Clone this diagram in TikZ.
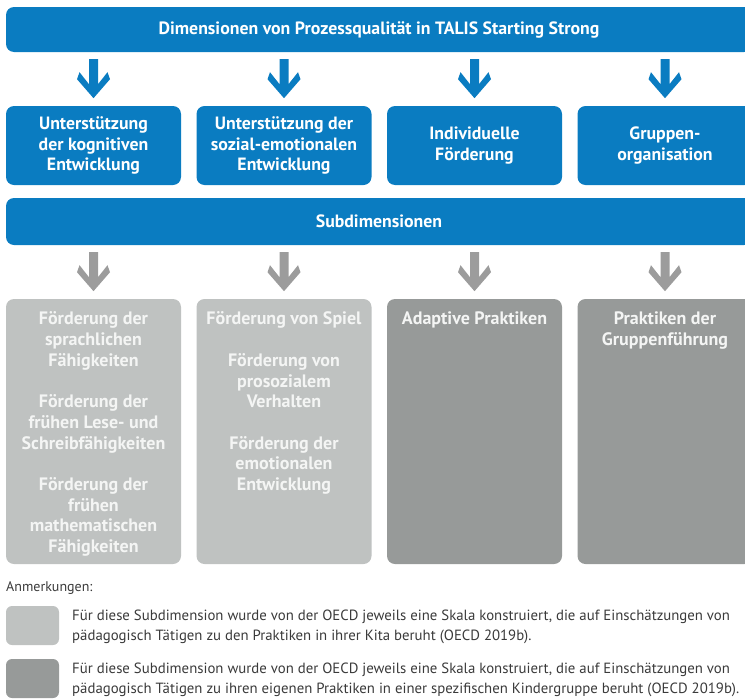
\documentclass[tikz,border=0pt]{standalone}
\usepackage{fontspec}
\setmainfont{PT Sans}
\definecolor{tsblue}{HTML}{0A7CC1}
\definecolor{arrowgray}{HTML}{9C9C9C}
\definecolor{lightbox}{HTML}{BFC2C1}
\definecolor{darkbox}{HTML}{979A99}
\definecolor{boxtext}{HTML}{F4F5F4}
\definecolor{notetext}{HTML}{3A3A3A}
\tikzset{
  downarrow/.pic={
    \fill (-4.5,0) -- (4.5,0) -- (4.5,25) -- (14,13) -- (16.5,20) -- (0,39)
          -- (-16.5,20) -- (-14,13) -- (-4.5,25) -- cycle;
  },
  headfont/.style={font=\fontsize{17.8}{20.5}\selectfont\bfseries},
  bar/.style={fill=tsblue, rounded corners=8pt, text=white, headfont,
    inner sep=0pt, minimum width=746pt},
  bluebox/.style={fill=tsblue, rounded corners=8pt, text=white, headfont,
    align=center, inner sep=0pt, minimum width=175pt, minimum height=79pt},
  subbox/.style={rounded corners=8pt, inner sep=0pt,
    minimum width=175pt, minimum height=265pt},
  subtext/.style={text=boxtext, align=center, inner sep=0pt,
    font=\fontsize{18}{20.7}\selectfont\bfseries},
  swatch/.style={rounded corners=6pt, inner sep=0pt,
    minimum width=53pt, minimum height=39pt},
  note/.style={text=notetext, align=left, inner sep=0pt,
    font=\fontsize{14.8}{20}\selectfont},
}
\begin{document}
\begin{tikzpicture}[x=1pt,y=-1pt]
\useasboundingbox (0,0) rectangle (745,699);

% main dimension bar and its four dimensions
\node[bar, minimum height=45pt] (title) at (379,29.5)
  {Dimensionen von Prozessqualität in TALIS Starting Strong};

\node[bluebox] (d1) at (93.5,145.5) {Unterstützung\\der kognitiven\\Entwicklung};
\node[bluebox] (d2) at (284,145.5) {Unterstützung der\\sozial-emotionalen\\Entwicklung};
\node[bluebox] (d3) at (474.5,145.5) {Individuelle\\Förderung};
\node[bluebox] (d4) at (665,145.5) {Gruppen-\\organisation};

\foreach \d in {d1,d2,d3,d4}
  \path (\d |- title.south) ++(0,7) pic[color=tsblue] {downarrow};

% sub-dimension bar
\node[bar, minimum height=47pt] (sub) at (379,221.5) {Subdimensionen};

\node[subbox, fill=lightbox] (s1) at (93.5,431.5) {};
\node[subbox, fill=lightbox] (s2) at (284,431.5) {};
\node[subbox, fill=darkbox] (s3) at (474.5,431.5) {};
\node[subbox, fill=darkbox] (s4) at (665,431.5) {};

\foreach \s in {s1,s2,s3,s4}
  \path (\s |- sub.south) ++(0,7) pic[color=arrowgray] {downarrow};

\node[subtext, anchor=north] (t1) at ([yshift=-13pt]s1.north)
  {Förderung der\\sprachlichen\\Fähigkeiten\\[20.7pt]
   Förderung der\\frühen Lese- und\\Schreibfähigkeiten\\[20.7pt]
   Förderung der\\frühen\\mathematischen\\Fähigkeiten};
\node[subtext, anchor=north] (t2) at ([yshift=-13pt]s2.north)
  {Förderung von Spiel\\[20.7pt]
   Förderung von\\prosozialem\\Verhalten\\[20.7pt]
   Förderung der\\emotionalen\\Entwicklung};
\node[subtext, anchor=north] (t3) at ([yshift=-13pt]s3.north)
  {Adaptive Praktiken};
\node[subtext, anchor=north] (t4) at ([yshift=-13pt]s4.north)
  {Praktiken der\\Gruppenführung};

% notes
\node[note, anchor=west, font=\fontsize{14}{20}\selectfont] (anm) at (6,588) {Anmerkungen:};

\node[swatch, fill=lightbox] (k1) at (32.5,625.5) {};
\node[swatch, fill=darkbox] (k2) at (32.5,678.5) {};

\node[note, anchor=west] (n1) at (72,627)
  {Für diese Subdimension wurde von der OECD jeweils eine Skala konstruiert, die auf Einschätzungen von\\
   pädagogisch Tätigen zu den Praktiken in ihrer Kita beruht (OECD 2019b).};
\node[note, anchor=west] (n2) at (72,680)
  {Für diese Subdimension wurde von der OECD jeweils eine Skala konstruiert, die auf Einschätzungen von\\
   pädagogisch Tätigen zu ihren eigenen Praktiken in einer spezifischen Kindergruppe beruht (OECD 2019b).};
\end{tikzpicture}
\end{document}
